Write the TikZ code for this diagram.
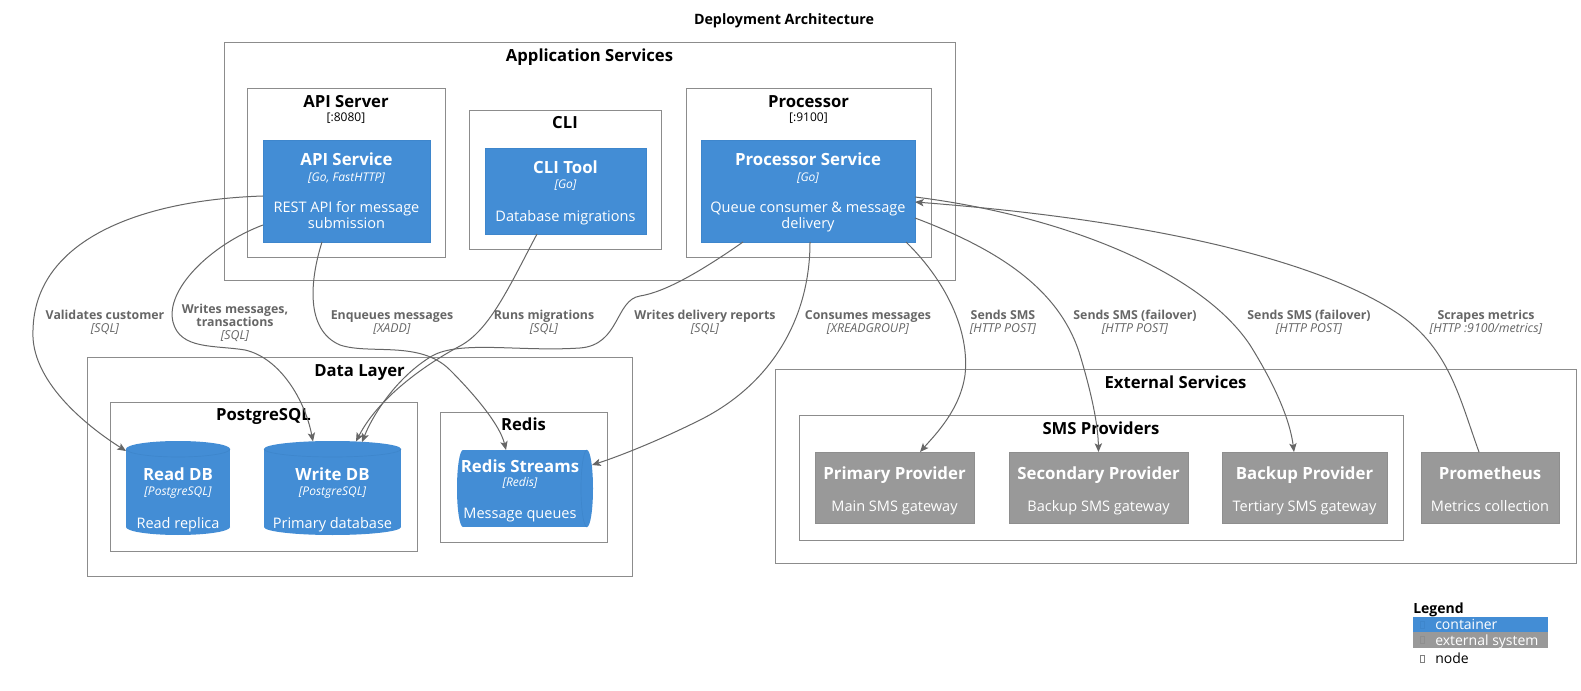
\documentclass[tikz,border=0pt]{standalone}
\usepackage{fontspec}
\setmainfont{Open Sans}
\usetikzlibrary{arrows.meta,fit,calc}
\definecolor{c4blue}{HTML}{438DD5}
\definecolor{c4blueD}{HTML}{3E86CC}
\definecolor{c4gray}{HTML}{999999}
\definecolor{c4grayD}{HTML}{8E8E8E}
\definecolor{bndc}{HTML}{8C8C8C}
\definecolor{relc}{HTML}{666666}
\definecolor{lblc}{HTML}{666666}
\begin{document}
\begin{tikzpicture}[x=0.75pt,y=-0.75pt,
  bnd/.style={draw=bndc, line width=0.75pt, inner sep=0pt, outer sep=0pt},
  cont/.style={fill=c4blue, draw=c4blueD, line width=0.5pt, inner sep=0pt, outer sep=0pt},
  extn/.style={fill=c4gray, draw=c4grayD, line width=0.5pt, inner sep=0pt, outer sep=0pt},
  hid/.style={inner sep=0pt, outer sep=0pt},
  rel/.style={draw=relc, line width=0.75pt, -{Stealth[length=6.5pt,width=5.5pt,inset=1.5pt]}},
  ttl/.style={anchor=base, inner sep=0pt, font=\bfseries\fontsize{10.7pt}{12pt}\selectfont},
  btitle/.style={anchor=base, inner sep=0pt, font=\bfseries\fontsize{12.5pt}{14pt}\selectfont},
  bsub/.style={anchor=base, inner sep=0pt, font=\fontsize{9pt}{11pt}\selectfont},
  ntitle/.style={anchor=base, inner sep=0pt, text=white, font=\bfseries\fontsize{12.6pt}{14pt}\selectfont},
  ntech/.style={anchor=base, inner sep=0pt, text=white, font=\itshape\fontsize{9pt}{11pt}\selectfont},
  ndesc/.style={anchor=base, inner sep=0pt, text=white, font=\fontsize{10.9pt}{12pt}\selectfont},
  elbl/.style={align=center, inner sep=0pt, text=lblc, font=\fontsize{9.25pt}{9.75pt}\selectfont},
  lgd/.style={anchor=base west, inner sep=0pt, font=\fontsize{10.5pt}{12pt}\selectfont},
]
\useasboundingbox (0,0) rectangle (1581,691);
\fill[white] (0,0) rectangle (1581,691);

% title
\node[ttl] (title) at (784,25) {Deployment Architecture};

% ---------- Application Services ----------
\node[bnd, fit={(224,43)(955,281)}] (appsvc) {};
\node[btitle] (appsvcT) at (589.5,62) {Application Services};

\node[bnd, fit={(247,89)(445,258)}] (apisrv) {};
\node[btitle] (apisrvT) at (346,108) {API Server};
\node[bsub] (apisrvP) at (346,122) {[:8080]};
\node[cont, fit={(263,140)(430,242)}] (apisvc) {};
\node[ntitle] (apisvcT) at (346.5,166) {API Service};
\node[ntech] (apisvcK) at (346.5,182) {[Go, FastHTTP]};
\node[ndesc] (apisvcD1) at (346.5,213) {REST API for message};
\node[ndesc] (apisvcD2) at (346.5,229) {submission};

\node[bnd, fit={(469,111)(661,250)}] (cli) {};
\node[btitle] (cliT) at (565,129) {CLI};
\node[cont, fit={(485,148)(646,234)}] (clitool) {};
\node[ntitle] (clitoolT) at (565.5,174) {CLI Tool};
\node[ntech] (clitoolK) at (565.5,189) {[Go]};
\node[ndesc] (clitoolD) at (565.5,222) {Database migrations};

\node[bnd, fit={(686,89)(931,258)}] (proc) {};
\node[btitle] (procT) at (808.5,108) {Processor};
\node[bsub] (procP) at (808.5,122) {[:9100]};
\node[cont, fit={(701,140)(915,242)}] (procsvc) {};
\node[ntitle] (procsvcT) at (808,166) {Processor Service};
\node[ntech] (procsvcK) at (808,182) {[Go]};
\node[ndesc] (procsvcD1) at (808,213) {Queue consumer \& message};
\node[ndesc] (procsvcD2) at (808,229) {delivery};

% ---------- Data Layer ----------
\node[bnd, fit={(87,358)(632,576)}] (data) {};
\node[btitle] (dataT) at (359.5,377) {Data Layer};
\node[bnd, fit={(110,403)(417,551)}] (pg) {};
\node[btitle] (pgT) at (263.5,421) {PostgreSQL};

% Read DB cylinder
\node[hid, fit={(126,441)(230,535)}] (readdb) {};
\fill[c4blue] (126,449) rectangle (230,527);
\fill[c4blue] (178,449) ellipse [x radius=52, y radius=8];
\fill[c4blue] (178,527) ellipse [x radius=52, y radius=8];
\draw[c4blueD, line width=0.5pt] (126,449) arc[start angle=180, end angle=0, x radius=52, y radius=8];
\node[ntitle] (readdbT) at (178,480) {Read DB};
\node[ntech] (readdbK) at (178,495) {[PostgreSQL]};
\node[ndesc] (readdbD) at (178,528) {Read replica};

% Write DB cylinder
\node[hid, fit={(264,441)(401,535)}] (writedb) {};
\fill[c4blue] (264,449) rectangle (401,527);
\fill[c4blue] (332.5,449) ellipse [x radius=68.5, y radius=8];
\fill[c4blue] (332.5,527) ellipse [x radius=68.5, y radius=8];
\draw[c4blueD, line width=0.5pt] (264,449) arc[start angle=180, end angle=0, x radius=68.5, y radius=8];
\node[ntitle] (writedbT) at (332.5,480) {Write DB};
\node[ntech] (writedbK) at (332.5,495) {[PostgreSQL]};
\node[ndesc] (writedbD) at (332.5,528) {Primary database};

% Redis
\node[bnd, fit={(440,413)(607,542)}] (redis) {};
\node[btitle] (redisT) at (523.5,431) {Redis};
\node[hid, fit={(457,450)(593,527)}] (redisq) {};
\fill[c4blue] (463,450) rectangle (587,527);
\fill[c4blue] (463,488.5) ellipse [x radius=6, y radius=38.5];
\fill[c4blue] (587,488.5) ellipse [x radius=6, y radius=38.5];
\draw[c4blueD, line width=0.5pt] (587,450) arc[start angle=270, end angle=90, x radius=6, y radius=38.5];
\node[ntitle] (redisqT) at (520,472) {Redis Streams};
\node[ntech] (redisqK) at (520,486) {[Redis]};
\node[ndesc] (redisqD) at (520,518) {Message queues};

% ---------- External Services ----------
\node[bnd, fit={(775,370)(1576,563)}] (ext) {};
\node[btitle] (extT) at (1175.5,389) {External Services};
\node[bnd, fit={(799,415)(1403,540)}] (sms) {};
\node[btitle] (smsT) at (1101,434) {SMS Providers};

\node[extn, fit={(815,452)(974,523)}] (primary) {};
\node[ntitle] (primaryT) at (894.5,479) {Primary Provider};
\node[ndesc] (primaryD) at (894.5,511) {Main SMS gateway};

\node[extn, fit={(1009,452)(1188,523)}] (secondary) {};
\node[ntitle] (secondaryT) at (1098.5,479) {Secondary Provider};
\node[ndesc] (secondaryD) at (1098.5,511) {Backup SMS gateway};

\node[extn, fit={(1222,452)(1387,523)}] (backup) {};
\node[ntitle] (backupT) at (1304.5,479) {Backup Provider};
\node[ndesc] (backupD) at (1304.5,511) {Tertiary SMS gateway};

\node[extn, fit={(1421,452)(1559,523)}] (prom) {};
\node[ntitle] (promT) at (1490,479) {Prometheus};
\node[ndesc] (promD) at (1490,511) {Metrics collection};

% ---------- Relations ----------
\draw[rel] ($(apisvc.north west)+(0,56)$) .. controls (140,200) and (35,240) .. (33,330)
  .. controls (30,380) and (85,425) .. ($(readdb.north west)+(0,10)$);
\draw[rel] ($(apisvc.north west)+(0,85)$) .. controls (210,245) and (165,290) .. (173,322)
  .. controls (180,350) and (215,345) .. (245,350)
  .. controls (280,358) and (305,400) .. ($(writedb.north west)+(49,0.5)$);
\draw[rel] ($(apisvc.south west)+(59,0)$) .. controls (310,280) and (305,330) .. (340,345)
  .. controls (370,355) and (420,340) .. (450,370)
  .. controls (475,395) and (500,425) .. ($(redisq.north west)+(49,0)$);
\draw[rel] ($(clitool.south west)+(52,0)$) .. controls (510,285) and (490,330) .. (460,346)
  .. controls (430,362) and (380,395) .. ($(writedb.north west)+(92,0.5)$);
\draw[rel] ($(procsvc.south west)+(42,0)$) .. controls (700,272) and (665,292) .. (640,296)
  .. controls (615,300) and (620,345) .. (580,348)
  .. controls (520,352) and (460,340) .. (432,356)
  .. controls (400,375) and (375,410) .. ($(writedb.north west)+(98,1)$);
\draw[rel] ($(procsvc.south west)+(109,0)$) .. controls (810,320) and (770,385) .. (700,420)
  .. controls (660,440) and (620,456) .. ($(redisq.north east)+(-1,15)$);
\draw[rel] ($(procsvc.south east)+(-9,0)$) .. controls (945,280) and (970,330) .. (965,375)
  .. controls (960,410) and (935,435) .. ($(primary.north west)+(105,0)$);
\draw[rel] ($(procsvc.north east)+(0,78)$) .. controls (1000,250) and (1060,290) .. (1080,355)
  .. controls (1092,395) and (1098,425) .. (secondary.north);
\draw[rel] ($(procsvc.north east)+(0,57)$) .. controls (1060,215) and (1200,270) .. (1250,345)
  .. controls (1275,385) and (1290,420) .. ($(backup.north west)+(72,0)$);
\draw[rel] ($(prom.north west)+(58,0)$) .. controls (1460,400) and (1450,350) .. (1400,315)
  .. controls (1320,260) and (1150,220) .. ($(procsvc.north east)+(0,62)$);

% relation labels
\node[elbl] (l1) at (105,322.5) {\textbf{Validates customer}\\\textit{[SQL]}};
\node[elbl] (l2) at (235,322.5) {\textbf{Writes messages,}\\\textbf{transactions}\\\textit{[SQL]}};
\node[elbl] (l3) at (392,322.5) {\textbf{Enqueues messages}\\\textit{[XADD]}};
\node[elbl] (l4) at (544,322.5) {\textbf{Runs migrations}\\\textit{[SQL]}};
\node[elbl] (l5) at (705,322.5) {\textbf{Writes delivery reports}\\\textit{[SQL]}};
\node[elbl] (l6) at (868,322.5) {\textbf{Consumes messages}\\\textit{[XREADGROUP]}};
\node[elbl] (l7) at (1003,322.5) {\textbf{Sends SMS}\\\textit{[HTTP POST]}};
\node[elbl] (l8) at (1135,322.5) {\textbf{Sends SMS (failover)}\\\textit{[HTTP POST]}};
\node[elbl] (l9) at (1309,322.5) {\textbf{Sends SMS (failover)}\\\textit{[HTTP POST]}};
\node[elbl] (l10) at (1486,322.5) {\textbf{Scrapes metrics}\\\textit{[HTTP :9100/metrics]}};

% ---------- Legend ----------
\node[lgd, font=\bfseries\fontsize{10.5pt}{12pt}\selectfont] (lgdT) at (1413,613) {Legend};
\node[hid, fill=c4blue, fit={(1413,617)(1548,632)}] (lgdC) {};
\node[hid, fill=c4gray, fit={(1413,632)(1548,648)}] (lgdE) {};
\draw[c4blueD, line width=0.4pt] (1420,621) rectangle (1424,628);
\draw[c4grayD, line width=0.4pt] (1420,636) rectangle (1424,643);
\draw[gray, line width=0.4pt] (1420,655) rectangle (1424,662);
\node[lgd, text=white] (lgdCt) at (1435,629) {container};
\node[lgd, text=white] (lgdEt) at (1435,645) {external system};
\node[lgd] (lgdNt) at (1435,663) {node};
\end{tikzpicture}
\end{document}
